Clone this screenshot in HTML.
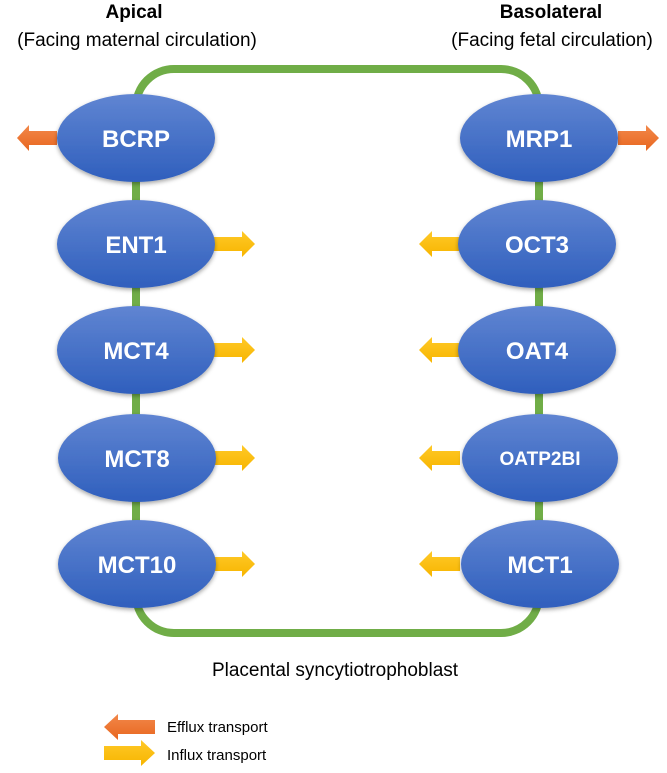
<!DOCTYPE html>
<html><head><meta charset="utf-8"><style>
body{margin:0;background:#fff;}
svg{display:block;}
text{font-family:"Liberation Sans",sans-serif;}
</style></head><body>
<svg width="667" height="773" viewBox="0 0 667 773" xmlns="http://www.w3.org/2000/svg">
<defs>
<linearGradient id="g" x1="0" y1="0" x2="0" y2="1">
<stop offset="0" stop-color="#6085d2"/><stop offset="1" stop-color="#2f5fbd"/>
</linearGradient>
<linearGradient id="o" x1="0" y1="0" x2="0" y2="1">
<stop offset="0" stop-color="#f2884a"/><stop offset="1" stop-color="#e8661f"/>
</linearGradient>
<linearGradient id="y" x1="0" y1="0" x2="0" y2="1">
<stop offset="0" stop-color="#ffc928"/><stop offset="1" stop-color="#f7b500"/>
</linearGradient>
<filter id="s" x="-20%" y="-20%" width="140%" height="150%"><feDropShadow dx="0" dy="2" stdDeviation="2" flood-opacity="0.35"/></filter>
</defs>
<rect x="136" y="69" width="403" height="564" rx="38" fill="none" stroke="#70ad47" stroke-width="8"/>
<text x="134" y="18" text-anchor="middle" font-weight="bold" font-size="19">Apical</text>
<text x="137" y="46" text-anchor="middle" font-size="19">(Facing maternal circulation)</text>
<text x="551" y="18" text-anchor="middle" font-weight="bold" font-size="19">Basolateral</text>
<text x="552" y="46" text-anchor="middle" font-size="19">(Facing fetal circulation)</text>
<!-- arrows -->
<g>
<polygon points="57,131 29,131 29,125 17,138 29,151 29,145 57,145" fill="url(#o)"/>
<polygon points="618,131 646,131 646,125 659,138 646,151 646,145 618,145" fill="url(#o)"/>
<g fill="url(#y)">
<polygon points="214,237 242,237 242,231 255,244 242,257 242,251 214,251"/>
<polygon points="214,343 242,343 242,337 255,350 242,363 242,357 214,357"/>
<polygon points="214,451 242,451 242,445 255,458 242,471 242,465 214,465"/>
<polygon points="214,557 242,557 242,551 255,564 242,577 242,571 214,571"/>
<polygon points="460,237 432,237 432,231 419,244 432,257 432,251 460,251"/>
<polygon points="460,343 432,343 432,337 419,350 432,363 432,357 460,357"/>
<polygon points="460,451 432,451 432,445 419,458 432,471 432,465 460,465"/>
<polygon points="460,557 432,557 432,551 419,564 432,577 432,571 460,571"/>
</g>
</g>
<g fill="url(#g)" filter="url(#s)">
<ellipse cx="136" cy="138" rx="79" ry="44"/>
<ellipse cx="136" cy="244" rx="79" ry="44"/>
<ellipse cx="136" cy="350" rx="79" ry="44"/>
<ellipse cx="137" cy="458" rx="79" ry="44"/>
<ellipse cx="137" cy="564" rx="79" ry="44"/>
<ellipse cx="539" cy="138" rx="79" ry="44"/>
<ellipse cx="537" cy="244" rx="79" ry="44"/>
<ellipse cx="537" cy="350" rx="79" ry="44"/>
<ellipse cx="540" cy="458" rx="78" ry="44"/>
<ellipse cx="540" cy="564" rx="79" ry="44"/>
</g>
<g fill="#fff" font-weight="bold" font-size="24" text-anchor="middle">
<text x="136" y="147">BCRP</text>
<text x="136" y="253">ENT1</text>
<text x="136" y="359">MCT4</text>
<text x="137" y="467">MCT8</text>
<text x="137" y="573">MCT10</text>
<text x="539" y="147">MRP1</text>
<text x="537" y="253">OCT3</text>
<text x="537" y="359">OAT4</text>
<text x="540" y="465" font-size="19">OATP2BI</text>
<text x="540" y="573">MCT1</text>
</g>
<text x="335" y="676" text-anchor="middle" font-size="19">Placental syncytiotrophoblast</text>
<polygon points="155,720 118,720 118,714 104,727 118,740 118,734 155,734" fill="url(#o)"/>
<polygon points="104,746 141,746 141,740 155,753 141,766 141,760 104,760" fill="url(#y)"/>
<text x="167" y="732" font-size="15">Efflux transport</text>
<text x="167" y="760" font-size="15">Influx transport</text>
</svg>
</body></html>
